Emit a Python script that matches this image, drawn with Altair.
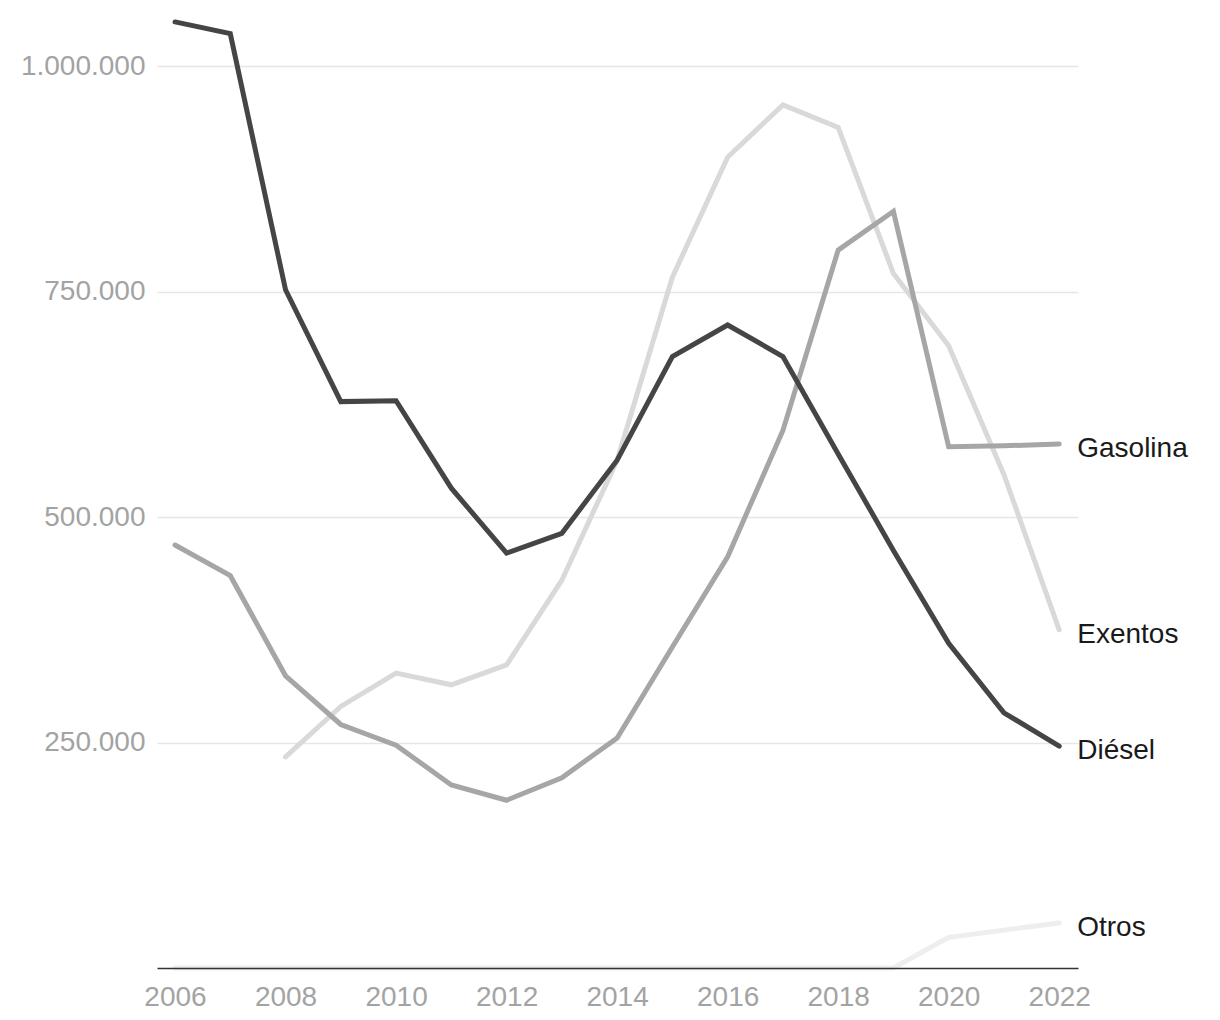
import altair as alt
import pandas as pd

years = [2006, 2007, 2008, 2009, 2010, 2011, 2012, 2013, 2014, 2015, 2016, 2017, 2018, 2019, 2020, 2021, 2022]
diesel = [1049000, 1036000, 752000, 628000, 629000, 532000, 460000, 482000, 563000, 678000, 713000, 678000, 570000, 463000, 360000, 283000, 246000]
gasolina = [469000, 435000, 324000, 270000, 247000, 203000, 186000, 211000, 255000, 356000, 456000, 596000, 796000, 839000, 578000, 579000, 581000]
exentos = [None, None, 234000, 290000, 327000, 314000, 336000, 430000, 563000, 766000, 899000, 957000, 932000, 770000, 690000, 547000, 375000]
otros = [0, 0, 0, 0, 0, 0, 0, 0, 0, 0, 0, 0, 0, 0, 34000, 42000, 50000]

series_names = ["Otros", "Exentos", "Gasolina", "Diésel"]
series_values = [otros, exentos, gasolina, diesel]
series_colors = ["#eeeeee", "#d9d9d9", "#a6a6a6", "#454545"]
y_ticks = [250000, 500000, 750000, 1000000]
x_ticks = [2006, 2008, 2010, 2012, 2014, 2016, 2018, 2020, 2022]

rows = []
for name, vals in zip(series_names, series_values):
    for yr, v in zip(years, vals):
        if v is not None:
            rows.append({"year": yr, "value": v, "serie": name})
df = pd.DataFrame(rows)

x_enc = alt.X(
    "year:Q",
    scale=alt.Scale(domain=[2005.674, 2022.34], nice=False, zero=False),
    axis=alt.Axis(
        values=x_ticks, format="d", title=None, grid=False, ticks=False, tickSize=0,
        domainColor="#333333", domainWidth=1.5, labelFontSize=28, labelColor="#a3a3a3",
        labelFont="Liberation Sans", labelPadding=15, labelFlush=False, labelOverlap=False,
        labelBound=False, zindex=1,
    ),
)
y_enc = alt.Y(
    "value:Q",
    scale=alt.Scale(domain=[0, 1060000], nice=False, zero=True),
    axis=alt.Axis(
        values=y_ticks, title=None, grid=True, gridColor="#e6e6e6", gridWidth=1.5,
        domain=False, ticks=False, tickSize=0, labelFontSize=28, labelColor="#a3a3a3",
        labelFont="Liberation Sans", labelPadding=12, labelOverlap=False, labelBound=False,
        labelExpr="replace(format(datum.value, ',d'), regexp(',', 'g'), '.')",
    ),
)

layers = []
for i, (name, col) in enumerate(zip(series_names, series_colors)):
    enc = {"x": x_enc, "y": y_enc} if i == 0 else {"x": "year:Q", "y": "value:Q"}
    layers.append(
        alt.Chart(df)
        .transform_filter(alt.datum.serie == name)
        .mark_line(color=col, strokeWidth=5, strokeCap="round", strokeJoin="miter")
        .encode(**enc)
    )

labels = (
    alt.Chart(df)
    .transform_filter(alt.datum.year == 2022)
    .mark_text(align="left", baseline="middle", dx=18, dy=5, fontSize=28,
               font="Liberation Sans", color="#1a1a1a")
    .encode(x="year:Q", y="value:Q", text="serie:N")
)

chart = (
    alt.layer(*layers, labels)
    .properties(
        width=921,
        height=956,
        padding={"left": 149, "top": 4, "right": 120, "bottom": 44},
        autosize=alt.AutoSizeParams(type="none"),
    )
    .configure_view(stroke="transparent")
)

chart.save("out.html", embed_options={"renderer": "svg", "actions": False})
